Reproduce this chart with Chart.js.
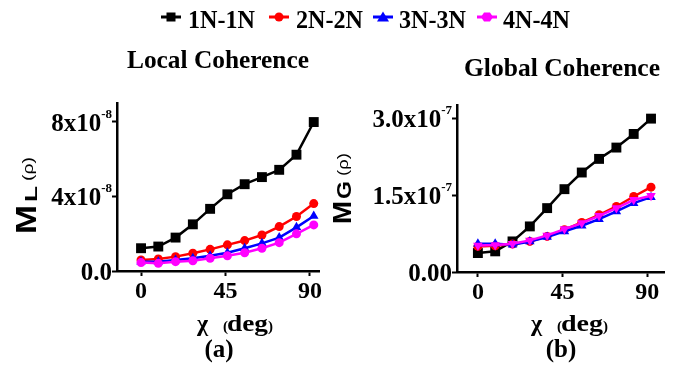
<!DOCTYPE html>
<html>
<head>
<meta charset="utf-8">
<script src="https://cdn.jsdelivr.net/npm/chart.js@4.4.1/dist/chart.umd.min.js"></script>
<style>
  html, body { margin:0; padding:0; background:#fff; }
  #wrap { position:relative; width:677px; height:367px; overflow:hidden; background:#fff; }
  canvas, svg { position:absolute; left:0; top:0; }
  svg { pointer-events:none; }
  .ser { font-family:"Liberation Serif","DejaVu Serif",serif; font-weight:bold; fill:#000; }
  .san { font-family:"Liberation Sans",Arial,sans-serif; font-weight:bold; fill:#000; }
  .sanr { font-family:"Liberation Sans",Arial,sans-serif; font-weight:normal; fill:#000; }
</style>
</head>
<body>
<div id="wrap">
  <canvas id="cL" width="677" height="367"></canvas>
  <canvas id="cG" width="677" height="367"></canvas>
  <svg id="txt" width="677" height="367" xmlns="http://www.w3.org/2000/svg">
    <g id="legend"></g>
    <text class="ser" x="127" y="68" font-size="26" textLength="182" lengthAdjust="spacingAndGlyphs">Local Coherence</text>
    <text class="ser" x="464" y="76" font-size="26" textLength="196" lengthAdjust="spacingAndGlyphs">Global Coherence</text>
    <!-- left y title -->
    <text class="san" x="36" y="234" font-size="29" textLength="29" lengthAdjust="spacingAndGlyphs" transform="rotate(-90 36 234)">M</text>
    <text class="san" x="37" y="202" font-size="17" textLength="16" lengthAdjust="spacingAndGlyphs" transform="rotate(-90 37 202)">L</text>
    <text class="sanr" x="33" y="181" font-size="15" textLength="24" lengthAdjust="spacingAndGlyphs" transform="rotate(-90 33 181)">(ρ)</text>
    <!-- right y title -->
    <text class="san" x="351" y="224" font-size="25" textLength="23" lengthAdjust="spacingAndGlyphs" transform="rotate(-90 351 224)">M</text>
    <text class="san" x="351" y="199" font-size="20" textLength="18" lengthAdjust="spacingAndGlyphs" transform="rotate(-90 351 199)">G</text>
    <text class="sanr" x="348" y="176" font-size="15" textLength="23" lengthAdjust="spacingAndGlyphs" transform="rotate(-90 348 176)">(ρ)</text>
    <!-- x titles -->
    <text class="ser" x="197" y="331" font-size="24">χ</text>
    <text class="ser" x="223" y="331" font-size="15">(</text>
    <text class="ser" x="227" y="331" font-size="24" textLength="41" lengthAdjust="spacingAndGlyphs">deg</text>
    <text class="ser" x="268" y="331" font-size="15">)</text>
    <text class="ser" x="531" y="331" font-size="24">χ</text>
    <text class="ser" x="557" y="331" font-size="15">(</text>
    <text class="ser" x="561" y="331" font-size="24" textLength="42" lengthAdjust="spacingAndGlyphs">deg</text>
    <text class="ser" x="603" y="331" font-size="15">)</text>
    <text class="ser" x="219" y="357" font-size="25" text-anchor="middle">(a)</text>
    <text class="ser" x="561" y="357" font-size="25" text-anchor="middle">(b)</text>
  </svg>
</div>
<script>
// ---- data ----
const chi = [0, 9.2, 18.4, 27.6, 36.8, 46, 55.2, 64.4, 73.6, 82.8, 92];
const seriesNames = ['1N-1N', '2N-2N', '3N-3N', '4N-4N'];
const local1 = [1.22e-8, 1.31e-8, 1.79e-8, 2.50e-8, 3.33e-8, 4.11e-8, 4.65e-8, 5.03e-8, 5.42e-8, 6.23e-8, 7.98e-8];
const local2 = [0.59e-8, 0.64e-8, 0.77e-8, 0.95e-8, 1.16e-8, 1.40e-8, 1.63e-8, 1.93e-8, 2.38e-8, 2.92e-8, 3.61e-8];
const local3 = [0.50e-8, 0.50e-8, 0.59e-8, 0.68e-8, 0.82e-8, 0.98e-8, 1.22e-8, 1.48e-8, 1.79e-8, 2.34e-8, 2.95e-8];
const local4 = [0.45e-8, 0.41e-8, 0.50e-8, 0.55e-8, 0.68e-8, 0.82e-8, 0.98e-8, 1.22e-8, 1.52e-8, 1.99e-8, 2.47e-8];
const global1 = [3.70e-8, 4.03e-8, 5.97e-8, 8.90e-8, 12.47e-8, 16.17e-8, 19.42e-8, 22.08e-8, 24.29e-8, 26.95e-8, 29.94e-8];
const global2 = [5.00e-8, 5.13e-8, 5.45e-8, 5.97e-8, 6.95e-8, 8.25e-8, 9.68e-8, 11.17e-8, 12.79e-8, 14.74e-8, 16.56e-8];
const global3 = [5.52e-8, 5.52e-8, 5.32e-8, 5.97e-8, 6.82e-8, 7.92e-8, 9.03e-8, 10.32e-8, 11.82e-8, 13.44e-8, 14.61e-8];
const global4 = [5.19e-8, 5.26e-8, 5.52e-8, 6.17e-8, 7.14e-8, 8.38e-8, 9.55e-8, 10.97e-8, 12.47e-8, 14.09e-8, 14.87e-8];
const xTickVals = [0, 45, 90];
const localTickVals = [0, 4e-8, 8e-8];
const localTickLabels = ['0.0', '4x10^-8', '8x10^-8'];
const globalTickVals = [0, 1.5e-7, 3.0e-7];
const globalTickLabels = ['0.00', '1.5x10^-7', '3.0x10^-7'];

// ---- styles ----
const colors = ['#000000', '#ff0000', '#0000ff', '#ff00ff'];
const SERIF = '"Liberation Serif","DejaVu Serif",serif';

// legend (SVG text + marker glyphs)
const legendMarkX = [161, 269, 373, 477];
const legendTextX = [188, 296, 399, 503];
const legendShapes = [
  (cx, cy) => `<rect x="${cx-4.5}" y="${cy-4.5}" width="9" height="9" fill="#000"/>`,
  (cx, cy) => `<circle cx="${cx}" cy="${cy}" r="4.5" fill="#ff0000"/>`,
  (cx, cy) => `<polygon points="${cx},${cy-5.5} ${cx+6},${cy+4.5} ${cx-6},${cy+4.5}" fill="#0000ff"/>`,
  (cx, cy) => `<polygon points="${cx-6},${cy} ${cx-3},${cy-4.5} ${cx+3},${cy-4.5} ${cx+6},${cy} ${cx+3},${cy+4.5} ${cx-3},${cy+4.5}" fill="#ff00ff"/>`
];
document.getElementById('legend').innerHTML = seriesNames.map((n, i) => {
  const x0 = legendMarkX[i], cy = 17;
  return `<line x1="${x0}" y1="${cy}" x2="${x0 + 20}" y2="${cy}" stroke="${colors[i]}" stroke-width="3"/>` +
    legendShapes[i](x0 + 10, cy) +
    `<text class="ser" x="${legendTextX[i]}" y="28" font-size="25" textLength="67" lengthAdjust="spacingAndGlyphs">${n}</text>`;
}).join('');

const tickPlugin = {
  id: 'tickText',
  afterDraw(chart, args, opts) {
    const { ctx, chartArea } = chart;
    const x = chart.scales.x, y = chart.scales.y;
    ctx.save();
    ctx.fillStyle = '#000';
    ctx.textBaseline = 'alphabetic';
    ctx.textAlign = 'left';
    opts.yVals.forEach((v, i) => {
      const parts = opts.yLabels[i].split('^');
      const py = y.getPixelForValue(v);
      ctx.font = 'bold 25px ' + SERIF;
      const bw = ctx.measureText(parts[0]).width;
      ctx.font = 'bold 13px ' + SERIF;
      const ew = parts[1] ? ctx.measureText(parts[1]).width : 0;
      const right = chartArea.left - 5;
      ctx.font = 'bold 25px ' + SERIF;
      ctx.fillText(parts[0], right - ew - bw, py + 9);
      if (parts[1]) {
        ctx.font = 'bold 13px ' + SERIF;
        ctx.fillText(parts[1], right - ew, py - 4);
      }
    });
    ctx.textAlign = 'center';
    ctx.font = 'bold 24px ' + SERIF;
    opts.xVals.forEach(v => {
      ctx.fillText(String(v), x.getPixelForValue(v), chartArea.bottom + 27);
    });
    ctx.restore();
  }
};

function makeDatasets(arrs, magentaStyle, magentaRot) {
  const styles = [
    { pointStyle: 'rect', radius: 7 },
    { pointStyle: 'circle', radius: 4.5 },
    { pointStyle: 'triangle', radius: 5.5 },
    { pointStyle: magentaStyle, radius: magentaStyle === 'circle' ? 4.5 : 5.5, rotation: magentaRot }
  ];
  const orders = [3, 2, 1, 0];
  return arrs.map((a, i) => ({
    label: seriesNames[i],
    data: chi.map((c, j) => ({ x: c, y: a[j] })),
    borderColor: colors[i],
    backgroundColor: colors[i],
    borderWidth: 2.5,
    pointStyle: styles[i].pointStyle,
    pointRadius: styles[i].radius,
    pointRotation: styles[i].rotation || 0,
    pointBorderWidth: 0,
    pointBackgroundColor: colors[i],
    tension: 0,
    clip: false,
    order: orders[i]
  }));
}

function makeChart(id, arrs, area, xr, yr, yVals, yLabels, magentaStyle, magentaRot) {
  return new Chart(document.getElementById(id), {
    type: 'line',
    data: { datasets: makeDatasets(arrs, magentaStyle, magentaRot) },
    options: {
      responsive: false,
      animation: false,
      devicePixelRatio: 1,
      layout: { padding: { left: area.l, right: 677 - area.r, top: area.t, bottom: 367 - area.b } },
      plugins: { legend: { display: false }, tooltip: { enabled: false }, tickText: { xVals: xTickVals, yVals, yLabels } },
      scales: {
        x: {
          type: 'linear', min: xr[0], max: xr[1],
          afterBuildTicks: s => { s.ticks = xTickVals.map(v => ({ value: v })); },
          afterFit: s => { s.height = 0; },
          ticks: { display: false },
          grid: { drawOnChartArea: false, drawTicks: true, tickLength: 5, tickWidth: 2, tickColor: '#000' },
          border: { display: true, color: '#000', width: 2.5 }
        },
        y: {
          type: 'linear', min: yr[0], max: yr[1],
          afterBuildTicks: s => { s.ticks = yVals.map(v => ({ value: v })); },
          afterFit: s => { s.width = 0; },
          ticks: { display: false },
          grid: { drawOnChartArea: false, drawTicks: true, tickLength: 5, tickWidth: 2, tickColor: '#000' },
          border: { display: true, color: '#000', width: 2.5 }
        }
      }
    },
    plugins: [tickPlugin]
  });
}

makeChart('cL', [local1, local2, local3, local4], { l: 117, r: 319, t: 103, b: 271 }, [-12.8, 94.8], [0, 9.0e-8], localTickVals, localTickLabels, 'circle', 0);
makeChart('cG', [global1, global2, global3, global4], { l: 457, r: 664, t: 105, b: 272 }, [-11.1, 98.9], [0, 3.26e-7], globalTickVals, globalTickLabels, 'triangle', 180);
</script>
</body>
</html>
